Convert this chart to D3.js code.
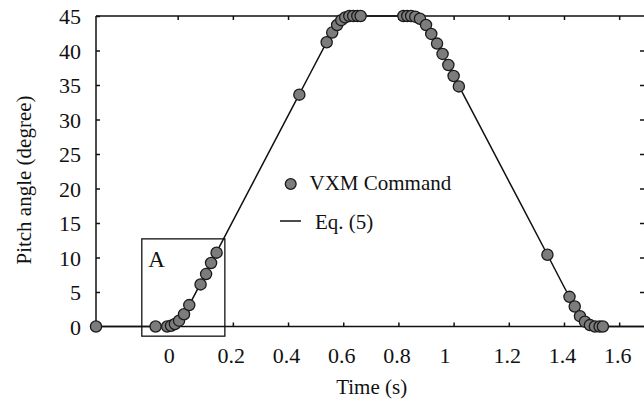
<!DOCTYPE html>
<html>
<head>
<meta charset="utf-8">
<script src="https://cdn.jsdelivr.net/npm/d3@7"></script>
<style>
  html, body { margin: 0; padding: 0; background: #fff; }
  svg text { font-family: "Liberation Serif", "Times New Roman", serif !important; fill: #111; }
</style>
</head>
<body>
<svg id="chart" width="644" height="402" font-family="Liberation Serif"></svg>
<script>
// VXM Command measured points
const vxmTime  = [-0.296, -0.080, -0.038, -0.024, -0.010, 0.005, 0.023, 0.042, 0.083, 0.103, 0.121, 0.141,
                  0.441, 0.540, 0.560, 0.578, 0.593, 0.607, 0.622, 0.636, 0.651, 0.663,
                  0.818, 0.832, 0.846, 0.861, 0.878, 0.900, 0.919, 0.940, 0.960, 0.981, 1.000, 1.019,
                  1.340, 1.420, 1.439, 1.458, 1.476, 1.494, 1.512, 1.529, 1.541];
const vxmAngle = [0, 0, 0, 0.1, 0.36, 0.84, 1.77, 3.1, 6.1, 7.6, 9.2, 10.7,
                  33.6, 41.2, 42.6, 43.7, 44.4, 44.8, 45, 45, 45, 45,
                  45, 45, 45, 44.9, 44.6, 43.7, 42.4, 41.0, 39.5, 37.9, 36.3, 34.8,
                  10.4, 4.3, 2.9, 1.5, 0.7, 0.2, 0, 0, 0];
// Eq. (5) curve
const eqTime  = [-0.296, -0.04, -0.02, 0, 0.02, 0.04, 0.14, 0.44, 0.54, 0.56, 0.58, 0.60, 0.62, 0.64,
                 0.82, 0.84, 0.86, 0.88, 0.90, 0.92, 1.02, 1.34, 1.42, 1.44, 1.46, 1.48, 1.50, 1.52, 1.69];
const eqAngle = [0, 0, 0.15, 0.6, 1.6, 3.0, 10.7, 33.6, 41.2, 42.7, 43.8, 44.5, 44.9, 45,
                 45, 45, 44.9, 44.6, 43.7, 42.4, 34.8, 10.4, 4.3, 2.9, 1.5, 0.6, 0.15, 0, 0];
// tick labels
const xTicks = [0, 0.2, 0.4, 0.6, 0.8, 1, 1.2, 1.4, 1.6];
const xTickLabels = ["0", "0.2", "0.4", "0.6", "0.8", "1", "1.2", "1.4", "1.6"];
const yTicks = [0, 5, 10, 15, 20, 25, 30, 35, 40, 45];
// annotation box "A" (time range, angle range)
const boxTime = [-0.130, 0.171];
const boxAngle = [-1.4, 12.7];
const seriesNames = ["VXM Command", "Eq. (5)"];

const FONT = "Liberation Serif";
const svg = d3.select("#chart");
const L = 96, R = 644, T = 16, B = 326.5;
const x = d3.scaleLinear().domain([-0.296, 1.69]).range([L, R]);
const y = d3.scaleLinear().domain([0, 45]).range([B, T]);

// axes frame (left, bottom, top)
const frame = svg.append("g").attr("stroke", "#111").attr("stroke-width", 1.5).attr("fill", "none");
frame.append("line").attr("x1", L).attr("x2", L).attr("y1", T).attr("y2", B);
frame.append("line").attr("x1", L).attr("x2", R).attr("y1", B).attr("y2", B);
frame.append("line").attr("x1", L).attr("x2", R).attr("y1", T).attr("y2", T);

// bottom axis
const xAxis = svg.append("g").attr("transform", `translate(0,${B})`)
  .call(d3.axisBottom(x).tickValues(xTicks).tickSizeInner(-4).tickSizeOuter(0)
        .tickPadding(0).tickFormat((d, i) => xTickLabels[i]));
xAxis.attr("font-family", FONT);
xAxis.select(".domain").remove();
xAxis.selectAll(".tick line").attr("stroke", "#111").attr("stroke-width", 1.5);
xAxis.selectAll(".tick text").attr("font-size", 22).attr("font-family", FONT).attr("y", 36).attr("dy", 0)
  .attr("dx", (d) => Number.isInteger(d) ? -9 : -2);

// top ticks
const xTop = svg.append("g").attr("transform", `translate(0,${T})`)
  .call(d3.axisTop(x).tickValues(xTicks).tickSizeInner(-4).tickSizeOuter(0).tickFormat(""));
xTop.select(".domain").remove();
xTop.selectAll(".tick line").attr("stroke", "#111").attr("stroke-width", 1.5);

// left axis
const yAxis = svg.append("g").attr("transform", `translate(${L},0)`)
  .call(d3.axisLeft(y).tickValues(yTicks).tickSizeInner(-4).tickSizeOuter(0).tickPadding(15));
yAxis.attr("font-family", FONT);
yAxis.select(".domain").remove();
yAxis.selectAll(".tick line").attr("stroke", "#111").attr("stroke-width", 1.5);
yAxis.selectAll(".tick text").attr("font-size", 22).attr("font-family", FONT).attr("dy", "0.36em");

// right ticks (axis line falls just outside the picture)
const yRight = svg.append("g").attr("transform", `translate(${R},0)`)
  .call(d3.axisRight(y).tickValues(yTicks.slice(1, -1)).tickSizeInner(-4).tickSizeOuter(0).tickFormat(""));
yRight.select(".domain").remove();
yRight.selectAll(".tick line").attr("stroke", "#111").attr("stroke-width", 1.5);

// annotation box
svg.append("rect")
  .attr("x", x(boxTime[0])).attr("y", y(boxAngle[1]))
  .attr("width", x(boxTime[1]) - x(boxTime[0])).attr("height", y(boxAngle[0]) - y(boxAngle[1]))
  .attr("fill", "none").attr("stroke", "#111").attr("stroke-width", 1.3);
svg.append("text").attr("x", x(boxTime[0]) + 6.5).attr("y", y(boxAngle[1]) + 28.5)
  .attr("font-family", FONT).attr("font-size", 23).text("A");

// Eq. (5) line
const eqData = eqTime.map((t, i) => [t, eqAngle[i]]);
svg.append("path").datum(eqData)
  .attr("d", d3.line().x(d => x(d[0])).y(d => y(d[1])).curve(d3.curveMonotoneX))
  .attr("fill", "none").attr("stroke", "#111").attr("stroke-width", 1.5);

// VXM points
const vxmData = vxmTime.map((t, i) => [t, vxmAngle[i]]);
svg.append("g").selectAll("circle").data(vxmData).join("circle")
  .attr("cx", d => x(d[0])).attr("cy", d => y(d[1])).attr("r", 5.6)
  .attr("fill", "#7c7c7c").attr("stroke", "#1a1a1a").attr("stroke-width", 1.3);

// legend
const lg = svg.append("g").attr("font-family", FONT);
lg.append("circle").attr("cx", 290.7).attr("cy", 184).attr("r", 5.4)
  .attr("fill", "#7c7c7c").attr("stroke", "#1a1a1a").attr("stroke-width", 1.3);
lg.append("text").attr("x", 309.5).attr("y", 190).attr("font-size", 21).text(seriesNames[0]);
lg.append("line").attr("x1", 280).attr("x2", 301).attr("y1", 221).attr("y2", 221)
  .attr("stroke", "#111").attr("stroke-width", 1.5);
lg.append("text").attr("x", 315).attr("y", 229).attr("font-size", 21).text(seriesNames[1]);

// axis titles
svg.append("text").attr("x", 371.7).attr("y", 393.5).attr("text-anchor", "middle")
  .attr("font-family", FONT).attr("font-size", 21).text("Time (s)");
svg.append("text").attr("transform", "translate(31,180) rotate(-90)").attr("text-anchor", "middle")
  .attr("font-family", FONT).attr("font-size", 21).text("Pitch angle (degree)");
</script>
</body>
</html>
